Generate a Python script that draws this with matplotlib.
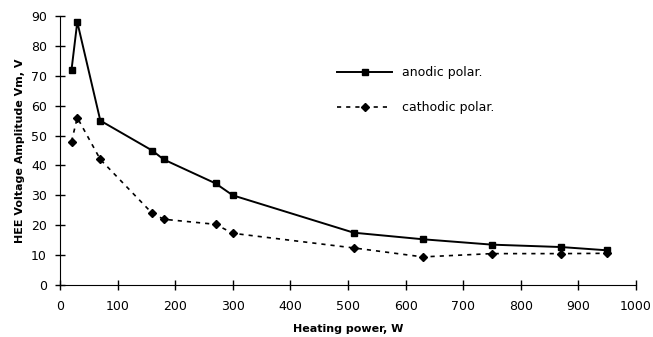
import matplotlib
matplotlib.use("Agg")
import matplotlib.pyplot as plt

# heating power, W
power = [20, 30, 70, 160, 180, 270, 300, 510, 630, 750, 870, 950]
# HEE voltage amplitude Vm, V
anodic = [72, 88, 55, 45, 42, 34, 30, 17.5, 15.3, 13.5, 12.7, 11.6]
cathodic = [48, 56, 42, 24, 22, 20.3, 17.3, 12.4, 9.4, 10.5, 10.5, 10.6]

x_ticks = [0, 100, 200, 300, 400, 500, 600, 700, 800, 900, 1000]
y_ticks = [0, 10, 20, 30, 40, 50, 60, 70, 80, 90]

fig = plt.figure(figsize=(6.53, 3.37), dpi=100)
ax = fig.add_axes([60 / 653, 1 - 285 / 337, 576 / 653, 269 / 337])

ax.plot(power, anodic, 'k-', marker='s', markersize=5, linewidth=1.4,
        label='anodic polar.')
ax.plot(power, cathodic, 'k', linestyle=(0, (2.5, 3)), marker='D',
        markersize=4, linewidth=1.2, label='cathodic polar.')

ax.set_xlim(0, 1000)
ax.set_ylim(0, 90)
ax.set_xticks(x_ticks)
ax.set_yticks(y_ticks)
ax.tick_params(direction='inout', length=7, width=1, labelsize=9, pad=6)
ax.tick_params(axis='x', pad=7)
for side in ['top', 'right']:
    ax.spines[side].set_visible(False)

ax.set_xlabel('Heating power, W', fontsize=8, fontweight='bold', labelpad=8)
ax.set_ylabel('HEE Voltage Amplitude Vm, V', fontsize=8, fontweight='bold',
              labelpad=4)

ax.legend(loc='upper left', bbox_to_anchor=(0.462, 0.855), frameon=False,
          handlelength=4.4, fontsize=9, labelspacing=1.75)

fig.savefig('out.png', dpi=100)
